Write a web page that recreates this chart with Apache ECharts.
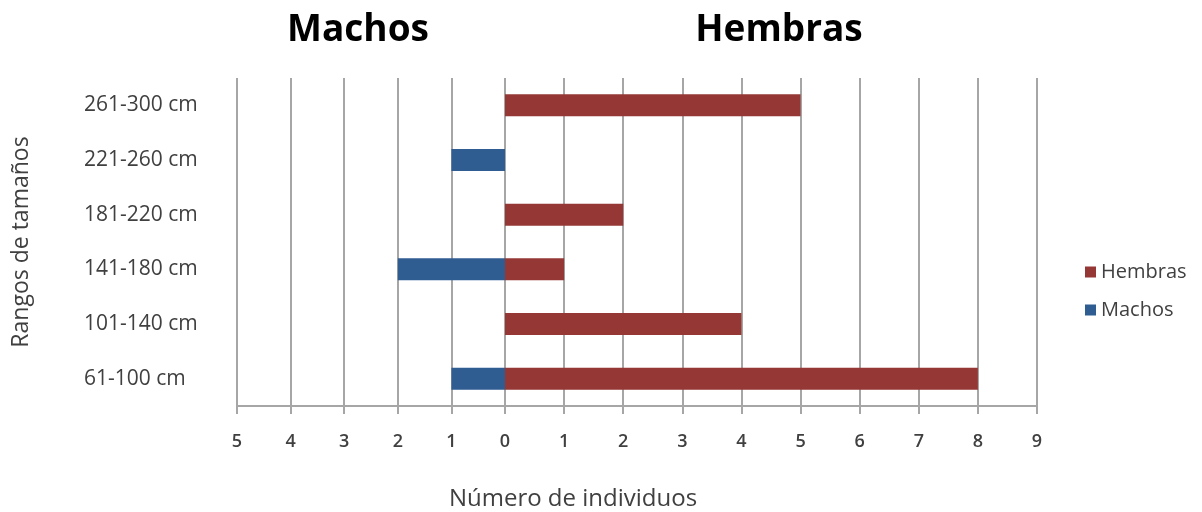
<!DOCTYPE html>
<html lang="es">
<head>
    <meta charset="UTF-8">
    <title>Rangos de tamaños por sexo</title>
    <style>
        html, body { margin: 0; padding: 0; background: #fff; }
        #chart { width: 1202px; height: 512px; }
    </style>
</head>
<body>
<div id="chart"></div>
<script src="https://cdn.jsdelivr.net/npm/echarts@6/dist/echarts.min.js"></script>
<script type="text/javascript">
    // categorias de abajo hacia arriba
    var rangos = ['61-100 cm ', '101-140 cm', '141-180 cm', '181-220 cm', '221-260 cm', '261-300 cm'];
    var hembras = [8, 4, 1, 2, 0, 5];
    var machos = [1, 0, 2, 0, 1, 0];
    var ticksMachos = [0, 1, 2, 3, 4, 5];
    var ticksHembras = [0, 1, 2, 3, 4, 5, 6, 7, 8, 9];

    var font = '"Open Sans", Lato, sans-serif';
    var gridColor = '#a6a6a6';
    var textColor = '#404040';

    function valueAxis(gridIndex, ticks, inverse, hideZero) {
        return {
            type: 'value',
            gridIndex: gridIndex,
            min: ticks[0],
            max: ticks[ticks.length - 1],
            interval: 1,
            inverse: inverse,
            axisLine: {show: true, onZero: false, lineStyle: {color: gridColor, width: 2}},
            axisTick: {show: true, length: 8, lineStyle: {color: gridColor, width: 2}},
            splitLine: {show: true, lineStyle: {color: gridColor, width: 2}},
            axisLabel: {
                color: textColor, fontFamily: font, fontSize: 18, fontWeight: 600, margin: 27,
                formatter: function (v) {
                    return (hideZero && v === 0) ? '' : String(v);
                }
            }
        };
    }

    var myChart = echarts.init(document.getElementById('chart'));
    myChart.setOption({
        animation: false,
        title: [
            {text: 'Machos', left: 353, top: 7, textAlign: 'center',
                textStyle: {fontFamily: font, fontSize: 37, fontWeight: 'bold', color: '#000'}},
            {text: 'Hembras', left: 774, top: 7, textAlign: 'center',
                textStyle: {fontFamily: font, fontSize: 37, fontWeight: 'bold', color: '#000'}},
            {text: 'Número de individuos', left: 568, top: 482, textAlign: 'center',
                textStyle: {fontFamily: font, fontSize: 24, fontWeight: 'normal', color: textColor}}
        ],
        legend: {
            data: ['Hembras', 'Machos'],
            orient: 'vertical',
            left: 1080,
            top: 257,
            itemWidth: 11,
            itemHeight: 11,
            itemGap: 18,
            icon: 'rect',
            textStyle: {fontFamily: font, fontSize: 20, color: textColor}
        },
        grid: [
            {left: 237, width: 268, top: 78, bottom: 106},
            {left: 505, width: 532, top: 78, bottom: 106}
        ],
        xAxis: [
            valueAxis(0, ticksMachos, true, false),
            valueAxis(1, ticksHembras, false, true)
        ],
        yAxis: [
            {
                type: 'category', gridIndex: 0, data: rangos,
                axisLine: {show: false, onZero: false},
                axisTick: {show: false},
                axisLabel: {
                    color: textColor, fontFamily: font, fontSize: 21,
                    align: 'left', margin: 153
                },
                name: 'Rangos de tamaños',
                nameLocation: 'middle',
                nameRotate: 90,
                nameGap: 204,
                nameTextStyle: {fontFamily: font, fontSize: 23, color: textColor}
            },
            {
                type: 'category', gridIndex: 1, data: rangos,
                axisLine: {show: false, onZero: false},
                axisTick: {show: false},
                axisLabel: {show: false}
            }
        ],
        series: [
            {
                name: 'Hembras', type: 'bar', xAxisIndex: 1, yAxisIndex: 1,
                data: hembras, barWidth: 22,
                itemStyle: {color: '#953735'}
            },
            {
                name: 'Machos', type: 'bar', xAxisIndex: 0, yAxisIndex: 0,
                data: machos, barWidth: 22,
                itemStyle: {color: '#2f5d92'}
            }
        ]
    });
</script>
</body>
</html>
